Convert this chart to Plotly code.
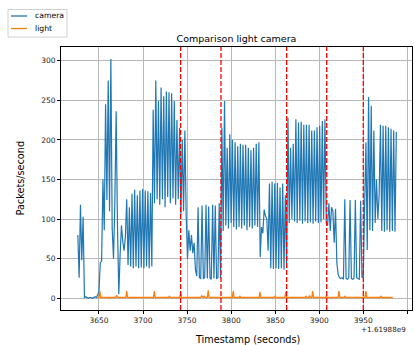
import plotly.graph_objects as go

# ---------------- data (timestamps are offsets from 1.61988e9 s) ----------------
OFFSET_LABEL = "+1.61988e9"

cam_start = 3626.0
cam_step = 1.5
camera_pps = [
    80, 26, 118, 48, 103, 1, 2, 1, 0, 1, 1, 0, 1, 2, 1, 4,
    9, 45, 47, 150, 86, 245, 124, 275, 110, 302, 88, 50, 120, 236, 93, 5,
    55, 92, 72, 60, 78,
    125, 42, 115, 40, 132, 38, 137, 40, 130, 38, 136, 39, 138, 38, 136, 40, 135, 38, 133, 40,
    238, 120, 275, 125, 249, 118, 266, 125, 255, 115, 261, 128, 260, 120, 259, 126, 249, 118,
    225, 125, 215, 105, 200, 110, 212,
    105, 50, 86, 60, 80, 57, 70, 36, 28, 115, 26, 25, 117, 25, 26, 118, 25, 116, 26, 24,
    118, 25, 117, 25, 26, 120, 25,
    215, 85, 249, 92, 190, 88, 207, 95, 200, 90, 197, 87, 192, 90, 195, 88, 194, 92, 194, 86,
    190, 90, 187, 88, 190, 92, 195, 90, 197,
    52, 90, 82, 112, 104, 100, 60,
    145, 38, 147, 37, 145, 38, 146, 37, 140, 38, 145, 36, 130, 38,
    228, 95, 190, 100, 195, 97, 226, 95, 222, 98, 223, 94, 219, 97, 219, 95, 219, 96, 212, 94,
    212, 97, 216, 95, 218, 96, 224, 100, 226, 95,
    92, 120, 85, 115, 110, 70, 113, 45, 30, 26, 25,
    26, 24, 125, 25, 24, 26, 124, 25, 24, 25, 124, 26, 25, 24, 123, 26, 28,
    120, 197, 61, 254, 86, 243, 85, 212, 95, 150, 100, 130, 219, 85, 218, 84, 218, 86, 216,
    84, 214, 85, 212, 84, 210,
]
cam_time = [cam_start + cam_step * i for i in range(len(camera_pps))]

light_time = [
    3648, 3650, 3651, 3652, 3669, 3670, 3671, 3680.5, 3681.5, 3682.5,
    3711.8, 3712.8, 3713.8, 3729, 3730, 3731, 3741.7, 3742.7, 3743.7,
    3765.6, 3766.6, 3767.6, 3768.5, 3769.5, 3770.5, 3773, 3774, 3775,
    3801.4, 3802.4, 3803.4, 3809, 3810, 3811, 3831.7, 3832.7, 3833.7,
    3848.8, 3849.8, 3850.8, 3861, 3862, 3863, 3884, 3885, 3886,
    3888, 3889, 3890, 3891.6, 3892.6, 3893.6, 3907, 3908, 3909,
    3921.4, 3922.4, 3923.4, 3928.2, 3929.2, 3930.2, 3952, 3953, 3954,
    3969, 3970, 3971, 3983.5,
]
light_pps = [
    1, 1, 9, 1, 1, 4, 1, 1, 9, 1,
    1, 9, 1, 1, 2.5, 1, 1, 7, 1,
    1, 3, 1, 1, 3, 1, 1, 10, 1,
    1, 9, 1, 1, 2.5, 1, 1, 8, 1,
    1, 2.5, 1, 1, 8, 1, 1, 2.5, 1,
    1, 3.5, 1, 1, 9, 1, 1, 3, 1,
    1, 9, 1, 1, 2.5, 1, 1, 9, 1,
    1, 2.5, 1, 1,
]

event_times = [3742.7, 3788.5, 3863.0, 3908.5, 3950.0]

x_ticks = [3650, 3700, 3750, 3800, 3850, 3900, 3950, 4000]
y_ticks = [0, 50, 100, 150, 200, 250, 300]

TITLE = "Comparison light camera"
X_TITLE = "Timestamp (seconds)"
Y_TITLE = "Packets/second"
SERIES = ["camera", "light"]
COLORS = ["#1f77b4", "#ff7f0e"]

# ---------------- figure ----------------
FONT = "DejaVu Sans"
W, H = 415, 345
L, R, T, B = 61, 3, 47, 35
pw, ph = W - L - R, H - T - B

def px_x(px):
    return (px - L) / pw

def px_y(py):
    return (H - B - py) / ph

fig = go.Figure()
fig.add_trace(go.Scatter(x=cam_time, y=camera_pps, mode="lines", name=SERIES[0],
                         line=dict(color=COLORS[0], width=1.2)))
fig.add_trace(go.Scatter(x=light_time, y=light_pps, mode="lines", name=SERIES[1],
                         line=dict(color=COLORS[1], width=1.3)))

for t in event_times:
    fig.add_shape(type="line", x0=t, x1=t, xref="x", y0=0, y1=1, yref="y domain",
                  line=dict(color="red", width=1.3, dash="5px,2px"), layer="above")

# manual legend (matplotlib style, outside top-left)
fig.add_shape(type="rect", xref="paper", yref="paper",
              x0=px_x(8), x1=px_x(67), y0=px_y(37), y1=px_y(9.5),
              line=dict(color="#d0d0d0", width=1), fillcolor="white")
for i, (name, col) in enumerate(zip(SERIES, COLORS)):
    yy = px_y(16 + 12.5 * i)
    fig.add_shape(type="line", xref="paper", yref="paper",
                  x0=px_x(11), x1=px_x(27), y0=yy, y1=yy,
                  line=dict(color=col, width=1.3))
    fig.add_annotation(text=name, xref="paper", yref="paper", x=px_x(33), y=yy,
                       xanchor="left", yanchor="middle", showarrow=False,
                       font=dict(family=FONT, size=7.7, color="black"))

fig.add_annotation(text=Y_TITLE, xref="paper", yref="paper", x=px_x(20), y=px_y(178.5),
                   textangle=-90, showarrow=False, xanchor="center", yanchor="middle",
                   font=dict(family=FONT, size=9.7, color="black"))
fig.add_annotation(text=X_TITLE, xref="paper", yref="paper", x=px_x(247), y=px_y(339),
                   showarrow=False, xanchor="center", yanchor="middle",
                   font=dict(family=FONT, size=9.7, color="black"))
fig.add_annotation(text=OFFSET_LABEL, xref="paper", yref="paper", x=px_x(408), y=px_y(329),
                   showarrow=False, xanchor="right", yanchor="middle",
                   font=dict(family=FONT, size=7.2, color="#222"))

axis_common = dict(showline=True, linecolor="black", linewidth=1, mirror=True,
                   ticks="outside", ticklen=3, tickcolor="black", tickwidth=1,
                   showgrid=True, gridcolor="#b8b8b8", gridwidth=1, zeroline=False,
                   tickfont=dict(family=FONT, size=7.5, color="#222"))

fig.update_layout(
    width=W, height=H,
    margin=dict(l=L, r=R, t=T, b=B),
    paper_bgcolor="white", plot_bgcolor="white",
    showlegend=False,
    title=dict(text=TITLE, x=0.5, xref="paper", y=1 - 39 / H, yref="container",
               xanchor="center", yanchor="middle",
               font=dict(family=FONT, size=9.5, color="black")),
    xaxis=dict(range=[3606.9, 4005.3], tickvals=x_ticks, **axis_common),
    yaxis=dict(range=[-14.8, 317.3], tickvals=y_ticks, **axis_common),
)

fig.write_html("out.html")
